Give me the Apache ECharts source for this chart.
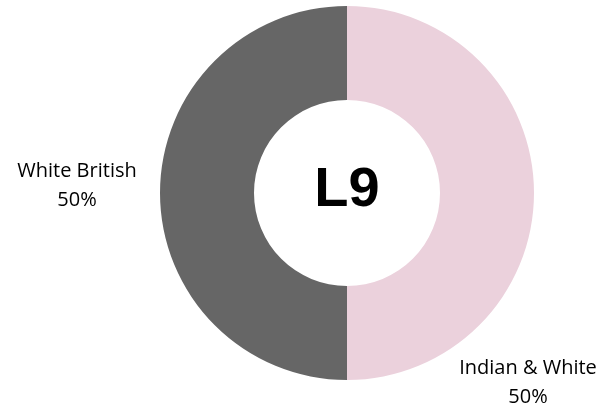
<!DOCTYPE html>
<html>
<head>
<meta charset="utf-8">
<script src="https://cdn.jsdelivr.net/npm/echarts@6/dist/echarts.min.js"></script>
<style>html,body{margin:0;padding:0;background:#fff}#c{width:599px;height:407px}</style>
</head>
<body>
<div id="c"></div>
<script>
const categories = ['Indian & White', 'White British'];
const values = [50, 50];
const percentLabels = ['50%', '50%'];
const centerLabel = 'L9';
const colors = ['#EBD1DC', '#666666'];

const chart = echarts.init(document.getElementById('c'));
const labelPos = [
  { x: 528, y: 383 },
  { x: 77, y: 186 }
];
chart.setOption({
  animation: false,
  series: [{
    type: 'pie',
    center: [347, 193],
    radius: [93, 187],
    startAngle: 90,
    clockwise: true,
    data: categories.map((c, i) => ({ name: c, value: values[i], itemStyle: { color: colors[i] } })),
    label: { show: false },
    labelLine: { show: false },
    emphasis: { disabled: true }
  }],
  graphic: categories.map((c, i) => ({
    type: 'text',
    x: labelPos[i].x, y: labelPos[i].y,
    style: {
      text: c + '\n' + percentLabels[i],
      fontFamily: 'Open Sans',
      fontSize: 20,
      lineHeight: 29,
      fill: '#000',
      align: 'center',
      verticalAlign: 'middle'
    }
  })).concat([{
    type: 'text',
    x: 347, y: 191,
    style: {
      text: centerLabel,
      fontFamily: 'Liberation Sans',
      fontWeight: 'bold',
      fontSize: 56,
      fill: '#000',
      align: 'center',
      verticalAlign: 'middle'
    }
  }])
});
</script>
</body>
</html>
